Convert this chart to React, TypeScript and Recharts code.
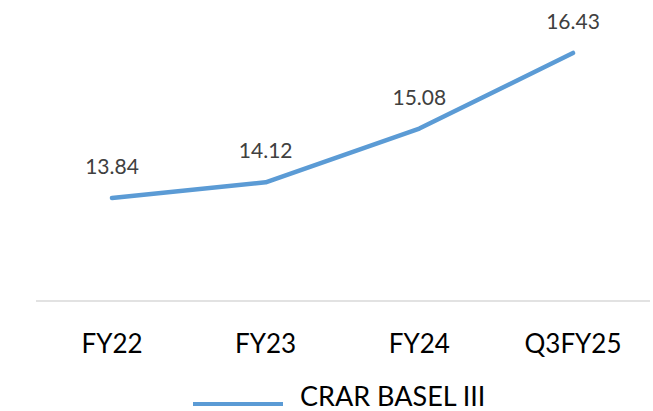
import React from 'react';
import { LineChart, Line, XAxis, YAxis, LabelList, Legend } from 'recharts';

const categories = ['FY22', 'FY23', 'FY24', 'Q3FY25'];
const crarValues = [13.84, 14.12, 15.08, 16.43];
const seriesName = 'CRAR BASEL III';

const data = categories.map((c, i) => ({ cat: c, crar: crarValues[i] }));

const FONT = 'Lato, "Open Sans", sans-serif';
const LINE_COLOR = '#5B9BD5';

const AxisTick = (props: any) => {
  const { x, y, payload } = props;
  return (
    <text x={x} y={y + 52} textAnchor="middle" fontFamily={FONT} fontSize={26} fill="#000">
      {payload.value}
    </text>
  );
};

const DataLabel = (props: any) => {
  const { x, y, value } = props;
  return (
    <text x={x} y={y - 24} textAnchor="middle" fontFamily={FONT} fontSize={21} fill="#404040">
      {Number(value).toFixed(2)}
    </text>
  );
};

const LegendContent = () => (
  <div style={{ position: 'relative', height: 0 }}>
    <svg width={653} height={30} style={{ position: 'absolute', left: 0, top: 0, overflow: 'visible' }}>
      <line x1={193} x2={283} y1={19} y2={19} stroke={LINE_COLOR} strokeWidth={4} />
      <text x={300} y={21} fontFamily={FONT} fontSize={27} fill="#000" dominantBaseline="auto">
        {seriesName}
      </text>
    </svg>
  </div>
);

export default function App() {
  return (
    <div style={{ position: 'absolute', left: 0, top: 0, width: 653, height: 411, background: '#fff' }}>
      <LineChart width={653} height={411} data={data} margin={{ top: 21, right: 3, bottom: 0, left: 36 }}>
        <XAxis
          dataKey="cat"
          height={110}
          padding={{ left: 76, right: 77 }}
          axisLine={{ stroke: '#D9D9D9', strokeWidth: 1.5 }}
          tickLine={false}
          tickSize={0}
          tickMargin={0}
          tick={<AxisTick />}
          interval={0}
        />
        <YAxis hide domain={[12, 17]} />
        <Legend
          content={<LegendContent />}
          wrapperStyle={{ position: 'absolute', left: 0, top: 385, width: 653, height: 0 }}
        />
        <Line
          type="linear"
          dataKey="crar"
          name={seriesName}
          stroke={LINE_COLOR}
          strokeWidth={4.5}
          strokeLinecap="round"
          strokeLinejoin="round"
          dot={false}
          activeDot={false}
          isAnimationActive={false}
        >
          <LabelList dataKey="crar" content={<DataLabel />} />
        </Line>
      </LineChart>
    </div>
  );
}
